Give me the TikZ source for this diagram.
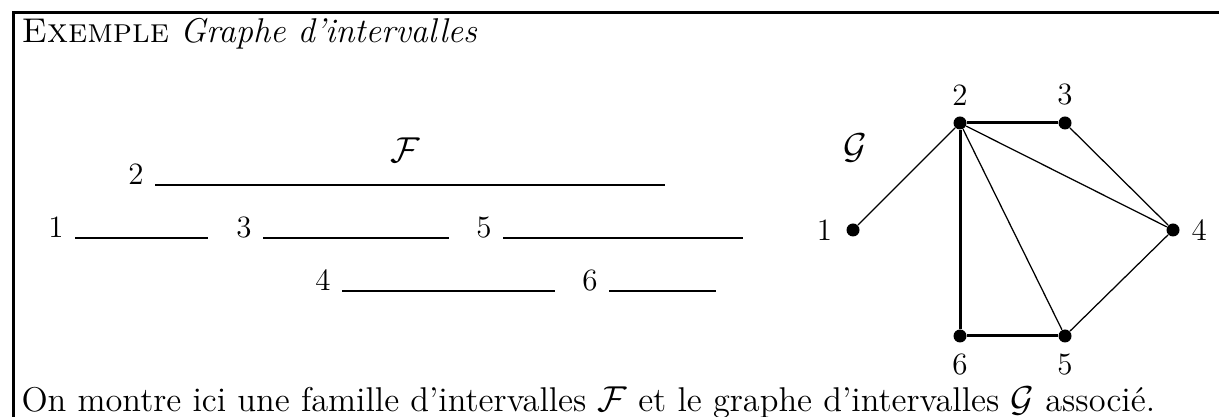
\documentclass[tikz,border=0pt]{standalone}
\usepackage{amsmath,amssymb}
\usepackage{tikz}
\usetikzlibrary{positioning}
\newcommand{\bigtext}{\fontsize{13.75}{16}\selectfont}
\newcommand{\midtext}{\fontsize{12.4}{15}\selectfont}
\tikzset{
  boxline/.style={line width=1.2pt, black},
  interval/.style={line width=1pt, black},
  intlabel/.style={anchor=base east, inner sep=0pt, xshift=-4.4pt, font=\midtext},
  vertex/.style={circle, fill=black, inner sep=0pt, minimum size=5.2pt},
  vlabel/.style={inner sep=0pt, font=\midtext},
  strong/.style={line width=1.2pt},
  weak/.style={line width=0.5pt},
  family/.style={inner sep=0pt, font=\bigtext},
}
\begin{document}
\begin{tikzpicture}[x=0.4pt,y=-0.4pt]
\useasboundingbox (0,0) rectangle (1219,417);

% frame of the example
\coordinate (fbl) at (13,417);
\coordinate (ftl) at (13,13);
\coordinate (ftr) at (1219,13);
\draw[boxline] (fbl) -- (ftl) -- (ftr);

\node[anchor=base west, inner sep=0pt, font=\bigtext] (title) at (21,43)
      {\textsc{Exemple} \textit{Graphe d'intervalles}};
\node[anchor=base west, inner sep=0pt, font=\bigtext] (caption) at (21,412)
      {On montre ici une famille d'intervalles $\mathcal{F}$ et le graphe d'intervalles $\mathcal{G}$ associé.};

% the family F
\node[family] (famF) at (405,150) {$\mathcal{F}$};

\coordinate (a2) at (155,185);  \coordinate (b2) at (665,185);
\coordinate (a1) at (75,238);   \coordinate (b1) at (208,238);
\coordinate (a3) at (263,238);  \coordinate (b3) at (449,238);
\coordinate (a5) at (503,238);  \coordinate (b5) at (743,238);
\coordinate (a4) at (342,291);  \coordinate (b4) at (555,291);
\coordinate (a6) at (609,291);  \coordinate (b6) at (716,291);

\draw[interval] (a1) -- (b1);
\draw[interval] (a2) -- (b2);
\draw[interval] (a3) -- (b3);
\draw[interval] (a4) -- (b4);
\draw[interval] (a5) -- (b5);
\draw[interval] (a6) -- (b6);

\node[intlabel] (i1) at (a1) {1};
\node[intlabel] (i2) at (a2) {2};
\node[intlabel] (i3) at (a3) {3};
\node[intlabel] (i4) at (a4) {4};
\node[intlabel] (i5) at (a5) {5};
\node[intlabel] (i6) at (a6) {6};

% the interval graph G
\node[family] (grG) at (855,148) {$\mathcal{G}$};

\node[vertex] (v1) at (853,230) {};
\node[vertex] (v2) at (960,123) {};
\node[vertex] (v3) at (1065,123) {};
\node[vertex] (v4) at (1173,230) {};
\node[vertex] (v5) at (1065,336) {};
\node[vertex] (v6) at (960,336) {};

\node[vlabel, left=5.4pt of v1] (l1) {1};
\node[vlabel, above=4.1pt of v2] (l2) {2};
\node[vlabel, above=4.1pt of v3] (l3) {3};
\node[vlabel, right=4.4pt of v4] (l4) {4};
\node[vlabel, below=4.3pt of v5] (l5) {5};
\node[vlabel, below=4.3pt of v6] (l6) {6};

\draw[weak] (v1) -- (v2);
\draw[strong] (v2) -- (v3);
\draw[weak] (v2) -- (v4);
\draw[weak] (v2) -- (v5);
\draw[strong] (v2) -- (v6);
\draw[weak] (v3) -- (v4);
\draw[weak] (v4) -- (v5);
\draw[strong] (v6) -- (v5);

\end{tikzpicture}
\end{document}
